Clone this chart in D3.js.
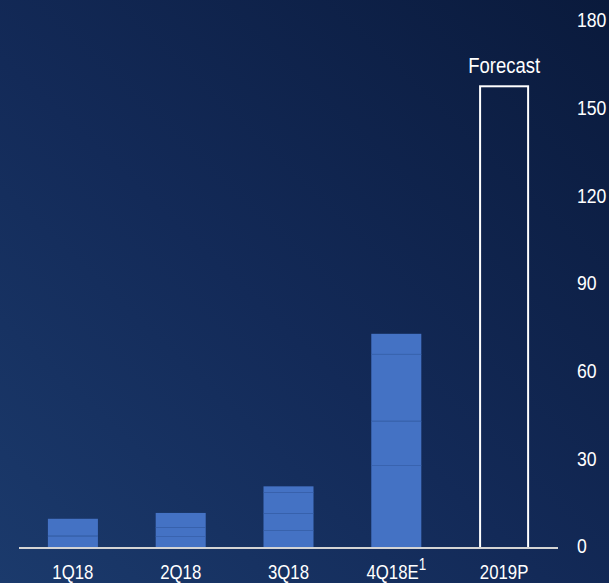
<!DOCTYPE html>
<html lang="en">
<head>
<meta charset="UTF-8">
<title>Quarterly volume with 2019 forecast</title>
<script src="https://d3js.org/d3.v7.min.js"></script>
<style>
    html, body {
        margin: 0;
        padding: 0;
        background: #0c1c40;
        overflow: hidden;
    }
    #chart text {
        font-family: 'Liberation Sans Narrow', 'Arial Narrow', 'Liberation Sans', Arial, sans-serif;
        fill: #ffffff;
    }
</style>
</head>
<body>
<div id="chart"></div>
<script>
// categories and values
const categories = ["1Q18", "2Q18", "3Q18", "4Q18E", "2019P"];
const actualQuarters = ["1Q18", "2Q18", "3Q18", "4Q18E"];
const segA = [4.2, 4.1, 6.1, 28.4];
const segB = [5.8, 3.0, 5.8, 15.1];
const segC = [0, 4.9, 7.2, 22.9];
const segD = [0, 0, 2.0, 6.9];
const forecastValue = 158;
const yTicks = [0, 30, 60, 90, 120, 150, 180];

const width = 609, height = 583;
const narrow = 0.84; // no narrow font installed, squeeze horizontally

const svg = d3.select("#chart").append("svg")
    .attr("width", width)
    .attr("height", height);

// background gradient: lighter blue bottom-left, dark navy top-right
const defs = svg.append("defs");
const grad = defs.append("linearGradient")
    .attr("id", "bg")
    .attr("x1", "0%").attr("y1", "100%")
    .attr("x2", "100%").attr("y2", "0%");
grad.append("stop").attr("offset", "0%").attr("stop-color", "#1b3a6c");
grad.append("stop").attr("offset", "45%").attr("stop-color", "#132a58");
grad.append("stop").attr("offset", "100%").attr("stop-color", "#0a1a3c");

svg.append("rect")
    .attr("width", width).attr("height", height)
    .attr("fill", "url(#bg)");

const x = d3.scaleBand()
    .domain(categories)
    .range([19, 558])
    .paddingInner(0.536)
    .paddingOuter(0.268);

const y = d3.scaleLinear()
    .domain([0, 180])
    .range([548, 22]);

// stacked data
const rows = actualQuarters.map((q, i) => ({ q, a: segA[i], b: segB[i], c: segC[i], d: segD[i] }));
const stack = d3.stack().keys(["a", "b", "c", "d"])(rows);

const barColor = "#4472c4";
const sepColor = "#3760aa";

const layers = svg.append("g");
stack.forEach(layer => {
    layers.selectAll(null)
        .data(layer.filter(d => d[1] - d[0] > 0))
        .enter().append("rect")
        .attr("x", d => x(d.data.q))
        .attr("width", x.bandwidth())
        .attr("y", d => y(d[1]))
        .attr("height", d => y(d[0]) - y(d[1]))
        .attr("fill", barColor);
});

// faint separators between segments (top of each segment that has another above it)
const totals = rows.map(r => r.a + r.b + r.c + r.d);
stack.slice(0, 3).forEach(layer => {
    layers.selectAll(null)
        .data(layer.filter((d, i) => d[1] - d[0] > 0 && d[1] < totals[i] - 0.01))
        .enter().append("line")
        .attr("x1", d => x(d.data.q))
        .attr("x2", d => x(d.data.q) + x.bandwidth())
        .attr("y1", d => Math.round(y(d[1])) + 0.5)
        .attr("y2", d => Math.round(y(d[1])) + 0.5)
        .attr("stroke", sepColor)
        .attr("stroke-opacity", 0.8)
        .attr("stroke-width", 1.2);
});

// forecast outline bar
svg.append("rect")
    .attr("x", x("2019P") + 1)
    .attr("width", x.bandwidth() - 2)
    .attr("y", y(forecastValue))
    .attr("height", y(0) - y(forecastValue))
    .attr("fill", "none")
    .attr("stroke", "#ffffff")
    .attr("stroke-width", 2);

const fx = x("2019P") + x.bandwidth() / 2;
svg.append("text")
    .attr("transform", `translate(${fx},${y(forecastValue) - 13}) scale(${narrow},1)`)
    .attr("text-anchor", "middle")
    .attr("font-size", 22)
    .text("Forecast");

// baseline
svg.append("line")
    .attr("x1", 19).attr("x2", 558)
    .attr("y1", y(0)).attr("y2", y(0))
    .attr("stroke", "#d4d4d4")
    .attr("stroke-width", 2);

// right-hand value axis labels
const yAxis = d3.axisRight(y).tickValues(yTicks).tickSize(0).tickPadding(0);
const yG = svg.append("g")
    .attr("transform", "translate(577,-2)")
    .call(yAxis);
yG.select(".domain").remove();
yG.selectAll("text")
    .attr("font-size", 21)
    .attr("fill", "#ffffff")
    .attr("transform", `scale(${narrow},1)`);

// category labels
const xAxis = d3.axisBottom(x).tickSize(0).tickPadding(0).tickFormat(() => "");
const xG = svg.append("g")
    .attr("transform", `translate(0,${y(0)})`)
    .call(xAxis);
xG.select(".domain").remove();
xG.selectAll(".tick").each(function (d) {
    const t = d3.select(this).append("text")
        .attr("transform", `translate(0,31) scale(${narrow},1)`)
        .attr("text-anchor", "middle")
        .attr("font-size", 20)
        .attr("fill", "#ffffff");
    if (d === "4Q18E") {
        t.text("4Q18E");
        t.append("tspan").attr("dy", -9).attr("font-size", 16).text("1");
    } else {
        t.text(d);
    }
});
</script>
</body>
</html>
